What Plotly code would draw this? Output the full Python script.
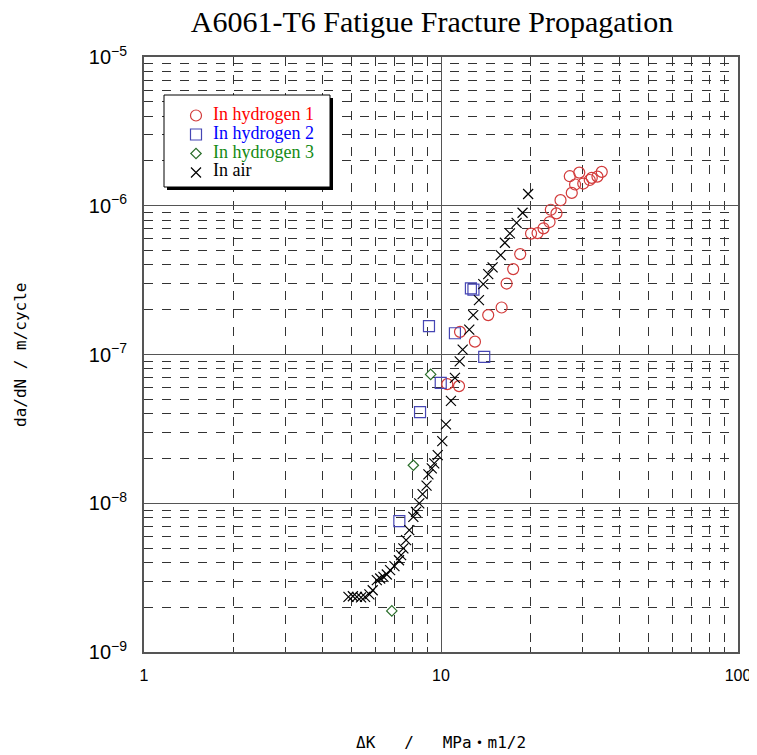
import plotly.graph_objects as go

# ---- data (ΔK in MPa·m^1/2, da/dN in m/cycle) ----
h1_dk = [10.50, 11.50, 11.59, 13.01, 14.42, 16.00, 16.63, 17.50, 18.48, 20.10,
         21.14, 22.14, 23.20, 24.48, 23.43, 25.26, 27.56, 28.28, 27.14, 29.21,
         30.13, 31.68, 32.18, 33.63, 34.77]
h1_dadn = [6.32e-8, 6.13e-8, 1.42e-7, 1.22e-7, 1.84e-7, 2.07e-7, 3.0e-7, 3.75e-7, 4.73e-7, 6.50e-7,
           6.55e-7, 7.05e-7, 7.77e-7, 8.89e-7, 9.40e-7, 1.09e-6, 1.22e-6, 1.39e-6, 1.58e-6, 1.67e-6,
           1.41e-6, 1.49e-6, 1.54e-6, 1.57e-6, 1.69e-6]

h2_dk = [7.24, 8.50, 9.11, 9.98, 11.14, 12.61, 12.86, 13.98]
h2_dadn = [7.58e-9, 4.10e-8, 1.55e-7, 6.45e-8, 1.39e-7, 2.78e-7, 2.73e-7, 9.65e-8]

h3_dk = [6.83, 8.07, 9.23]
h3_dadn = [1.89e-9, 1.80e-8, 7.35e-8]

air_dk = [4.88, 5.05, 5.21, 5.38, 5.55, 5.74, 5.89, 6.08, 6.24, 6.40,
          6.57, 6.74, 6.97, 7.22, 7.34, 7.47, 7.63, 7.82, 8.07, 8.24,
          8.45, 8.67, 8.94, 9.07, 9.31, 9.49, 9.75, 10.10, 10.39, 10.80,
          11.14, 11.56, 11.83, 12.45, 12.84, 13.42, 13.88, 14.42, 14.92, 15.88,
          16.41, 17.06, 17.97, 18.82, 19.65]
air_dadn = [2.35e-9, 2.37e-9, 2.35e-9, 2.33e-9, 2.35e-9, 2.44e-9, 2.60e-9, 3.04e-9, 3.12e-9, 3.20e-9,
            3.32e-9, 3.55e-9, 3.78e-9, 4.14e-9, 4.48e-9, 4.97e-9, 5.65e-9, 6.59e-9, 8.10e-9, 8.75e-9,
            9.97e-9, 1.151e-8, 1.313e-8, 1.563e-8, 1.714e-8, 1.852e-8, 2.106e-8, 2.616e-8, 3.39e-8, 4.88e-8,
            6.97e-8, 9.0e-8, 1.079e-7, 1.47e-7, 1.84e-7, 2.32e-7, 2.97e-7, 3.47e-7, 3.85e-7, 4.66e-7,
            5.64e-7, 6.52e-7, 7.68e-7, 8.97e-7, 1.199e-6]

series_names = ["In hydrogen 1", "In hydrogen 2", "In hydrogen 3", "In air"]
series = [
    (h1_dk, h1_dadn, "circle-open", "#d23a3a", 11),
    (h2_dk, h2_dadn, "square-open", "#4646b4", 11),
    (h3_dk, h3_dadn, "diamond-open", "#2a6e2a", 8),
    (air_dk, air_dadn, "x-thin-open", "#000000", 10),
]
label_colors = ["#ff0000", "#0000ff", "#138a13", "#000000"]

fig = go.Figure()
for name, (xs, ys, sym, mcol, size) in zip(series_names, series):
    fig.add_trace(go.Scatter(
        x=xs, y=ys, mode="markers", name=" ", hovertext=name,
        marker=dict(symbol=sym, size=size, color=mcol, line=dict(width=1.2, color=mcol)),
    ))

axis_common = dict(
    type="log", dtick=1, showline=True, linecolor="#555555", linewidth=1.5, mirror=True,
    showgrid=True, gridcolor="#555555", gridwidth=1, zeroline=False, automargin=False,
    ticks="", tickfont=dict(family="Liberation Sans, Arial", size=16, color="black"),
    minor=dict(dtick="D1", showgrid=True, gridcolor="#333333", griddash="dash", gridwidth=0.8,
               ticks="inside", ticklen=5, tickcolor="#333333"),
)

fig.update_xaxes(**axis_common, range=[0, 2], ticklabelstandoff=8)
fig.update_yaxes(**axis_common, range=[-9, -5], exponentformat="power", ticklabelstandoff=12)

# The page places the figure 8px from the window's top-left corner.
OFF = 8
FIG_W, FIG_H = 749, 747
ML, MT, MR, MB = 136, 49, 19, 103
W = FIG_W - ML - MR
H = FIG_H - MT - MB
L, T = ML + OFF, MT + OFF  # plot area origin in window pixels
def px(xp): return (xp - L) / W
def py(yp): return 1 - (yp - T) / H

# legend box with drop shadow
x0, x1, y0, y1 = 164, 330, 95, 187
fig.add_shape(type="rect", xref="paper", yref="paper", x0=px(x0 + 3), x1=px(x1 + 3), y0=py(y1 + 3), y1=py(y0 + 3),
              fillcolor="black", line=dict(width=0), layer="above")
fig.add_shape(type="rect", xref="paper", yref="paper", x0=px(x0), x1=px(x1), y0=py(y1), y1=py(y0),
              fillcolor="white", line=dict(width=1, color="black"), layer="above")

# legend labels
row_y = [114.3, 133.0, 151.7, 170.3]
for name, col, ry in zip(series_names, label_colors, row_y):
    fig.add_annotation(text=name, xref="paper", yref="paper", x=px(211), y=py(ry),
                       xanchor="left", yanchor="middle", showarrow=False,
                       font=dict(family="Liberation Serif, Times New Roman", size=18, color=col))

# axis titles
mono = "DejaVu Sans Mono, Noto Sans CJK JP"
fig.add_annotation(text="ΔK   /   MPa・m1/2", xref="paper", yref="paper", x=px(441), y=py(743),
                   xanchor="center", yanchor="middle", showarrow=False,
                   font=dict(family=mono, size=16, color="black"))
fig.add_annotation(text="da/dN / m/cycle", xref="paper", yref="paper", x=px(20), y=py(355),
                   xanchor="center", yanchor="middle", showarrow=False, textangle=-90,
                   font=dict(family=mono, size=16, color="black"))

fig.update_layout(
    width=FIG_W, height=FIG_H,
    margin=dict(l=ML, r=MR, t=MT, b=MB, autoexpand=False),
    paper_bgcolor="white", plot_bgcolor="white",
    title=dict(text="A6061-T6 Fatigue Fracture Propagation", x=(432 - OFF) / FIG_W, xanchor="center",
               y=1 - (21 - OFF) / FIG_H, yanchor="middle",
               font=dict(family="Liberation Serif, Times New Roman", size=30, color="black")),
    legend=dict(x=px(176), y=py(101), xanchor="left", yanchor="top",
                bgcolor="rgba(0,0,0,0)", borderwidth=0,
                font=dict(family="Liberation Serif, Times New Roman", size=12),
                tracegroupgap=0, itemwidth=30),
    showlegend=True,
)

fig.write_html("out.html")
